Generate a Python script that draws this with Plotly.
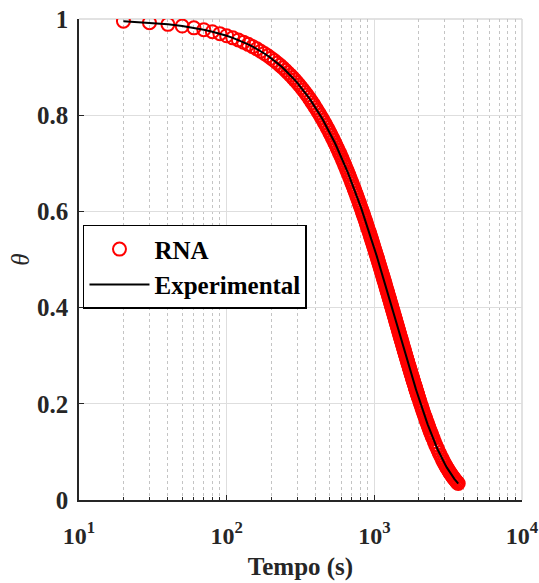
import plotly.graph_objects as go

# ---- data ----
# sampling every 10 s up to 2000 s
time_a = [20, 30, 40, 50, 60, 70, 80, 90, 100, 110, 120, 130, 140, 150, 160, 170, 180, 190, 200,
          210, 220, 230, 240, 250, 260, 270, 280, 290, 300, 310, 320, 330, 340, 350, 360, 370, 380,
          390, 400, 410, 420, 430, 440, 450, 460, 470, 480, 490, 500, 510, 520, 530, 540, 550, 560,
          570, 580, 590, 600, 610, 620, 630, 640, 650, 660, 670, 680, 690, 700, 710, 720, 730, 740,
          750, 760, 770, 780, 790, 800, 810, 820, 830, 840, 850, 860, 870, 880, 890, 900, 910, 920,
          930, 940, 950, 960, 970, 980, 990, 1000, 1010, 1020, 1030, 1040, 1050, 1060, 1070, 1080,
          1090, 1100, 1110, 1120, 1130, 1140, 1150, 1160, 1170, 1180, 1190, 1200, 1210, 1220, 1230,
          1240, 1250, 1260, 1270, 1280, 1290, 1300, 1310, 1320, 1330, 1340, 1350, 1360, 1370, 1380,
          1390, 1400, 1410, 1420, 1430, 1440, 1450, 1460, 1470, 1480, 1490, 1500, 1510, 1520, 1530,
          1540, 1550, 1560, 1570, 1580, 1590, 1600, 1610, 1620, 1630, 1640, 1650, 1660, 1670, 1680,
          1690, 1700, 1710, 1720, 1730, 1740, 1750, 1760, 1770, 1780, 1790, 1800, 1810, 1820, 1830,
          1840, 1850, 1860, 1870, 1880, 1890, 1900, 1910, 1920, 1930, 1940, 1950, 1960, 1970, 1980,
          1990, 2000]
theta_a = [0.9954, 0.9923, 0.9889, 0.9853, 0.9816, 0.9777, 0.9736, 0.9695, 0.9652, 0.9608,
           0.9564, 0.9519, 0.9473, 0.9426, 0.9379, 0.9331, 0.9283, 0.9235, 0.9185, 0.9136,
           0.9086, 0.9036, 0.8986, 0.8935, 0.8884, 0.8833, 0.8782, 0.8730, 0.8679, 0.8627,
           0.8575, 0.8523, 0.8471, 0.8419, 0.8366, 0.8314, 0.8261, 0.8209, 0.8156, 0.8104,
           0.8051, 0.7999, 0.7947, 0.7895, 0.7842, 0.7790, 0.7738, 0.7686, 0.7633, 0.7582,
           0.7530, 0.7478, 0.7426, 0.7375, 0.7323, 0.7272, 0.7221, 0.7170, 0.7119, 0.7068,
           0.7017, 0.6967, 0.6916, 0.6866, 0.6816, 0.6766, 0.6716, 0.6667, 0.6617, 0.6568,
           0.6519, 0.6471, 0.6422, 0.6373, 0.6325, 0.6277, 0.6230, 0.6182, 0.6134, 0.6087,
           0.6041, 0.5994, 0.5948, 0.5901, 0.5855, 0.5809, 0.5764, 0.5718, 0.5672, 0.5628,
           0.5583, 0.5539, 0.5494, 0.5450, 0.5407, 0.5363, 0.5320, 0.5276, 0.5233, 0.5191,
           0.5149, 0.5106, 0.5064, 0.5022, 0.4981, 0.4940, 0.4899, 0.4858, 0.4817, 0.4777,
           0.4738, 0.4698, 0.4659, 0.4619, 0.4580, 0.4541, 0.4502, 0.4464, 0.4425, 0.4388,
           0.4351, 0.4313, 0.4276, 0.4239, 0.4203, 0.4167, 0.4130, 0.4094, 0.4058, 0.4023,
           0.3988, 0.3953, 0.3918, 0.3883, 0.3849, 0.3816, 0.3782, 0.3749, 0.3715, 0.3682,
           0.3650, 0.3617, 0.3585, 0.3552, 0.3521, 0.3489, 0.3458, 0.3426, 0.3395, 0.3365,
           0.3334, 0.3304, 0.3273, 0.3243, 0.3214, 0.3185, 0.3155, 0.3126, 0.3097, 0.3069,
           0.3041, 0.3013, 0.2985, 0.2957, 0.2930, 0.2903, 0.2876, 0.2849, 0.2822, 0.2796,
           0.2770, 0.2743, 0.2717, 0.2691, 0.2666, 0.2641, 0.2617, 0.2592, 0.2567, 0.2543,
           0.2519, 0.2495, 0.2471, 0.2447, 0.2424, 0.2401, 0.2378, 0.2355, 0.2332, 0.2310,
           0.2288, 0.2266, 0.2244, 0.2222, 0.2201, 0.2180, 0.2158, 0.2137, 0.2116]

# sampling every 25 s from 2025 to 2500 s
time_b = [2025, 2050, 2075, 2100, 2125, 2150, 2175, 2200, 2225, 2250, 2275, 2300, 2325, 2350,
          2375, 2400, 2425, 2450, 2475, 2500]
theta_b = [0.2065, 0.2014, 0.1966, 0.1917, 0.1871, 0.1824, 0.1780, 0.1735, 0.1692, 0.1649,
           0.1609, 0.1568, 0.1529, 0.1490, 0.1453, 0.1416, 0.1381, 0.1345, 0.1311, 0.1277]

# sampling every 50 s from 2550 to 3700 s
time_c = [2550, 2600, 2650, 2700, 2750, 2800, 2850, 2900, 2950, 3000, 3050, 3100, 3150, 3200,
          3250, 3300, 3350, 3400, 3450, 3500, 3550, 3600, 3650, 3700]
theta_c = [0.1212, 0.1150, 0.1091, 0.1035, 0.0981, 0.0930, 0.0882, 0.0835, 0.0791, 0.0750,
           0.0710, 0.0672, 0.0636, 0.0602, 0.0569, 0.0538, 0.0509, 0.0481, 0.0455, 0.0430,
           0.0406, 0.0383, 0.0362, 0.0342]

time_s = time_a + time_b + time_c
theta_rna = theta_a + theta_b + theta_c
theta_experimental = list(theta_rna)

x_major_ticks = [10, 100, 1000, 10000]
x_major_labels = ["10<sup>1</sup>", "10<sup>2</sup>", "10<sup>3</sup>", "10<sup>4</sup>"]
x_minor_ticks = [20, 30, 40, 50, 60, 70, 80, 90,
                 200, 300, 400, 500, 600, 700, 800, 900,
                 2000, 3000, 4000, 5000, 6000, 7000, 8000, 9000]
y_ticks = [0, 0.2, 0.4, 0.6, 0.8, 1]
y_labels = ["0", "0.2", "0.4", "0.6", "0.8", "1"]

FONT = "Liberation Serif"
TXT = "#262626"

fig = go.Figure()
fig.add_trace(go.Scatter(
    x=time_s, y=theta_rna, mode="markers", name="<b>RNA</b>",
    marker=dict(symbol="circle-open", size=13, color="#ff0000",
                line=dict(width=2, color="#ff0000")),
))
fig.add_trace(go.Scatter(
    x=time_s, y=theta_experimental, mode="lines", name="<b>Experimental</b>",
    line=dict(color="black", width=2),
))

fig.update_layout(
    width=539, height=583,
    margin=dict(l=79, r=17, t=19, b=83, autoexpand=False),
    paper_bgcolor="white", plot_bgcolor="white",
    font=dict(family=FONT, size=25, color=TXT),
    showlegend=True,
    legend=dict(
        x=0.009, y=0.572, xanchor="left", yanchor="top",
        bgcolor="white", bordercolor="black", borderwidth=1.5,
        font=dict(family=FONT, size=25, color="black"),
        itemwidth=60, tracegroupgap=0,
    ),
)

fig.update_xaxes(
    type="log", range=[1, 4], automargin=False,
    tickmode="array", tickvals=x_major_ticks, ticktext=[f"<b>{t}</b>" for t in x_major_labels],
    ticks="inside", ticklen=5, tickwidth=1, tickcolor=TXT,
    showline=True, linecolor=TXT, linewidth=1.5,
    showgrid=True, gridcolor="#dedede", gridwidth=1,
    minor=dict(tickmode="array", tickvals=x_minor_ticks, ticks="inside", ticklen=3,
               tickcolor=TXT, showgrid=True, gridcolor="#c4c4c4", griddash="dot", gridwidth=1),
    tickfont=dict(family=FONT, size=24, color=TXT),
    ticklabelstandoff=13, ticklabeloverflow="allow",
    title=dict(text="<b>Tempo (s)</b>", font=dict(family=FONT, size=25, color=TXT), standoff=10),
    zeroline=False,
)
fig.update_yaxes(
    range=[0, 1], automargin=False,
    tickmode="array", tickvals=y_ticks, ticktext=[f"<b>{t}</b>" for t in y_labels],
    ticks="inside", ticklen=5, tickwidth=1, tickcolor=TXT,
    showline=True, linecolor=TXT, linewidth=1.5,
    showgrid=True, gridcolor="#dedede", gridwidth=1,
    tickfont=dict(family=FONT, size=25, color=TXT),
    ticklabelstandoff=4, ticklabeloverflow="allow",
    title=dict(text="<i>θ</i>", font=dict(family=FONT, size=25, color=TXT), standoff=0),
    zeroline=False,
)

# light grey top and right frame
fig.add_shape(type="line", xref="paper", yref="paper", x0=0, x1=1, y0=1, y1=1,
              line=dict(color="#d9d9d9", width=1.5), layer="below")
fig.add_shape(type="line", xref="paper", yref="paper", x0=1, x1=1, y0=0, y1=1,
              line=dict(color="#d9d9d9", width=1.5), layer="below")

# remove the browser's default page margin so the figure fills the window exactly
fig.write_html("out.html",
               config={"displayModeBar": False},
               post_script="document.body.style.margin='0';document.body.style.overflow='hidden';")
